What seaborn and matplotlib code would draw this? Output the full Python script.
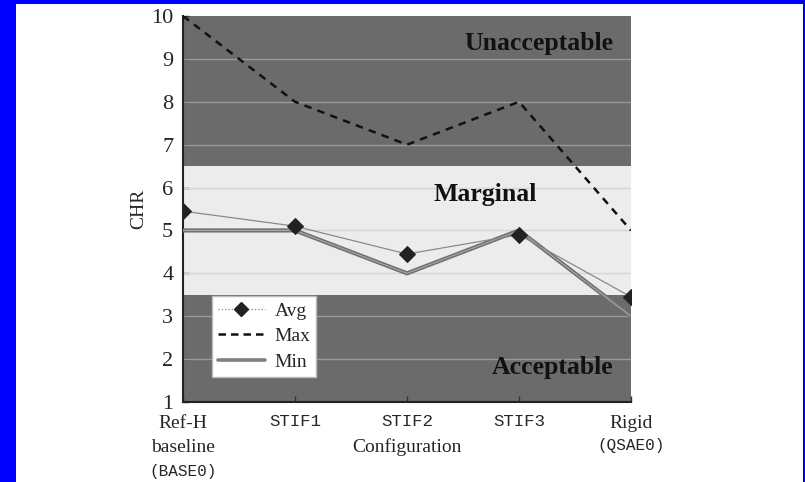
import numpy as np
import pandas as pd
import matplotlib
matplotlib.use("Agg")
import matplotlib.pyplot as plt
from matplotlib.patches import Rectangle
from matplotlib.lines import Line2D
import seaborn as sns

configs = ["Ref-H", "STIF1", "STIF2", "STIF3", "Rigid"]
avg_vals = [5.45, 5.1, 4.45, 4.9, 3.45]
max_vals = [10, 8, 7, 8, 5]
min_vals = [5, 5, 4, 5, 3]
yticks = [1, 2, 3, 4, 5, 6, 7, 8, 9, 10]
bands = [(6.5, 10, "Unacceptable"), (3.5, 6.5, "Marginal"), (1, 3.5, "Acceptable")]

sns.set_theme(style="white")
plt.rcParams["font.family"] = ["Liberation Serif", "DejaVu Serif"]
MONO = ["Liberation Mono", "DejaVu Sans Mono"]

fig = plt.figure(figsize=(8.05, 4.82), dpi=100)
fig.patch.set_facecolor("#0000ff")
fig.patches.append(Rectangle((16 / 805, 0), (803 - 16) / 805, (482 - 4) / 482,
                             transform=fig.transFigure, facecolor="white",
                             edgecolor="none", zorder=-10))
ax = fig.add_axes([183 / 805, 1 - 402 / 482, (631 - 183) / 805, (402 - 16) / 482])

x = np.arange(len(configs))
df = pd.DataFrame({"x": np.tile(x, 3),
                   "CHR": avg_vals + max_vals + min_vals,
                   "series": ["Avg"] * 5 + ["Max"] * 5 + ["Min"] * 5})

# background bands
band_col = {"Unacceptable": "#6b6b6b", "Marginal": "#ececec", "Acceptable": "#6b6b6b"}
for lo, hi, name in bands:
    ax.axhspan(lo, hi, color=band_col[name], zorder=0, lw=0)
for yv in yticks[1:-1]:
    col = "#d6d6d6" if 3.5 < yv < 6.5 else "#9a9a9a"
    ax.axhline(yv, color=col, lw=1.0, zorder=1)

dmin = df[df.series == "Min"]
sns.lineplot(data=dmin, x="x", y="CHR", ax=ax, color="#707070",
             lw=3.0, zorder=3, legend=False)
sns.lineplot(data=dmin, x="x", y="CHR", ax=ax, color="#a8a8a8",
             lw=0.8, zorder=3.1, legend=False)
sns.lineplot(data=df[df.series == "Max"], x="x", y="CHR", ax=ax, color="#111111",
             lw=1.8, ls=(0, (3, 2.5)), zorder=4, legend=False)
sns.lineplot(data=df[df.series == "Avg"], x="x", y="CHR", ax=ax, color="#8a8a8a",
             lw=0.9, marker="D", markersize=8, markerfacecolor="#222222",
             markeredgecolor="#222222", zorder=5, legend=False)

ax.set_xlim(0, 4)
ax.set_ylim(1, 10)
ax.set_yticks(yticks)
ax.set_yticklabels([str(v) for v in yticks], fontsize=16)
ax.set_xticks(x)
ax.set_xticklabels(configs, fontsize=14)
for lab, name in zip(ax.get_xticklabels(), configs):
    if name.startswith("STIF"):
        lab.set_fontfamily(MONO)
        lab.set_fontsize(12.5)
ax.tick_params(axis="both", direction="in", length=4, width=1, color="#333333",
               left=True, bottom=True)
ax.tick_params(axis="x", pad=9)
ax.tick_params(axis="y", pad=7)
for side in ["top", "right"]:
    ax.spines[side].set_visible(False)
for side in ["left", "bottom"]:
    ax.spines[side].set_color("#222222")
    ax.spines[side].set_linewidth(1.5)

tr = ax.get_xaxis_transform()
ax.annotate("baseline", xy=(0, 0), xycoords=tr, xytext=(0, -50), textcoords="offset pixels",
            ha="center", va="baseline", fontsize=14, annotation_clip=False)
ax.annotate("(BASE0)", xy=(0, 0), xycoords=tr, xytext=(0, -74), textcoords="offset pixels",
            ha="center", va="baseline", fontsize=11.5, family=MONO, annotation_clip=False)
ax.annotate("(QSAE0)", xy=(4, 0), xycoords=tr, xytext=(0, -48), textcoords="offset pixels",
            ha="center", va="baseline", fontsize=11.5, family=MONO, annotation_clip=False)
ax.set_xlabel("Configuration", fontsize=14)
ax.xaxis.set_label_coords(0.5, -50 / 386)
ax.xaxis.label.set_va("baseline")
ax.set_ylabel("CHR", fontsize=14, labelpad=3)

ax.text(3.84, 9.37, "Unacceptable", ha="right", va="center", fontsize=18.5, fontweight="bold", color="#111111", zorder=6)
ax.text(2.7, 5.83, "Marginal", ha="center", va="center", fontsize=18.5, fontweight="bold", color="#111111", zorder=6)
ax.text(3.84, 1.8, "Acceptable", ha="right", va="center", fontsize=18.5, fontweight="bold", color="#111111", zorder=6)

handles = [Line2D([], [], color="#8a8a8a", lw=0.9, ls=":", marker="D", markersize=7,
                  markerfacecolor="#222222", markeredgecolor="#222222"),
           Line2D([], [], color="#111111", lw=1.8, ls=(0, (3, 2))),
           Line2D([], [], color="#808080", lw=2.6)]
leg = ax.legend(handles, ["Avg", "Max", "Min"], loc="lower left",
                bbox_to_anchor=(0.065, 0.065), borderaxespad=0, fontsize=14,
                frameon=True, fancybox=False, framealpha=1, edgecolor="#bbbbbb",
                handlelength=2.4, labelspacing=0.42, borderpad=0.3, handletextpad=0.5)
leg.get_frame().set_linewidth(1.0)
leg.set_zorder(7)

fig.savefig("out.png", dpi=100, facecolor=fig.get_facecolor())
